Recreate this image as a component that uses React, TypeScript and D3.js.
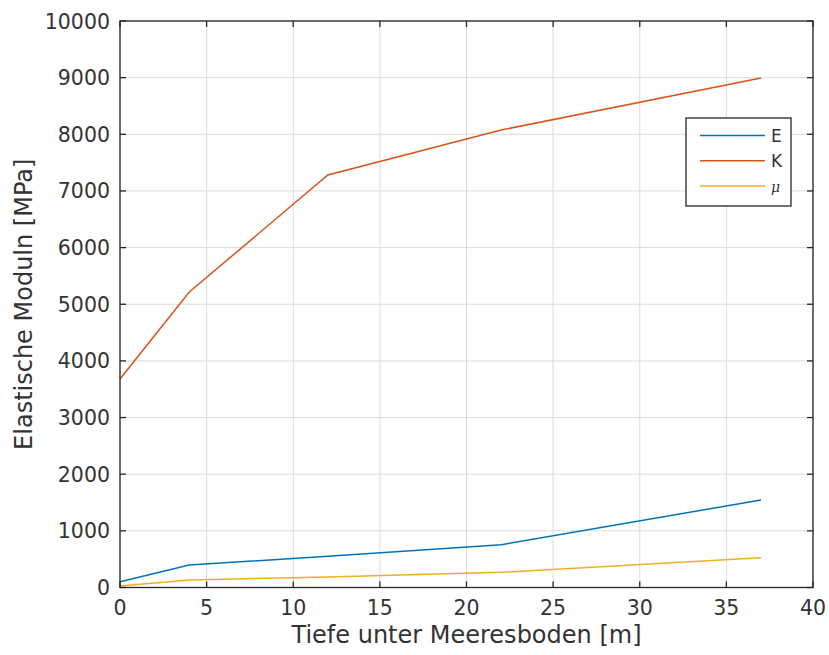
import React from "react";
import * as d3 from "d3";

const depth = [0, 4, 12, 22, 37];
const seriesE = [100, 397, 552, 755, 1545];
const seriesK = [3680, 5216, 7282, 8076, 8994];
const seriesMu = [26, 132, 187, 268, 526];
const seriesNames = ["E", "K", "μ"];
const seriesColors = ["#0072BD", "#D95319", "#EDB120"];
const xTicks = [0, 5, 10, 15, 20, 25, 30, 35, 40];
const yTicks = [0, 1000, 2000, 3000, 4000, 5000, 6000, 7000, 8000, 9000, 10000];

const W = 829, H = 655;
const L = 120, R = 813, T = 21, B = 587.5;

export default function App() {
  const x = d3.scaleLinear().domain([0, 40]).range([L, R]);
  const y = d3.scaleLinear().domain([0, 10000]).range([B, T]);
  const all = [seriesE, seriesK, seriesMu];
  const line = d3.line<[number, number]>().x(d => x(d[0])).y(d => y(d[1]));
  const axisColor = "#262626";
  const textColor = "#333333";
  const font = "'DejaVu Sans', sans-serif";
  const tickLen = 6;
  return (
    <svg width={W} height={H} style={{ position: "absolute", left: 0, top: 0, background: "#fff" }}>
      <rect x={0} y={0} width={W} height={H} fill="#fff" />
      {xTicks.map(t => (
        <line key={"gx" + t} x1={x(t)} x2={x(t)} y1={T} y2={B} stroke="#dcdcdc" strokeWidth={1} />
      ))}
      {yTicks.map(t => (
        <line key={"gy" + t} x1={L} x2={R} y1={y(t)} y2={y(t)} stroke="#dcdcdc" strokeWidth={1} />
      ))}
      {all.map((s, i) => (
        <path key={"s" + i} d={line(depth.map((d, j) => [d, s[j]] as [number, number])) || ""} fill="none" stroke={seriesColors[i]} strokeWidth={1.5} />
      ))}
      <rect x={L} y={T} width={R - L} height={B - T} fill="none" stroke={axisColor} strokeWidth={1.3} />
      {xTicks.map(t => (
        <g key={"tx" + t}>
          <line x1={x(t)} x2={x(t)} y1={B} y2={B - tickLen} stroke={axisColor} strokeWidth={1.3} />
          <line x1={x(t)} x2={x(t)} y1={T} y2={T + tickLen} stroke={axisColor} strokeWidth={1.3} />
          <text x={x(t)} y={615} textAnchor="middle" fontFamily={font} fontSize={20.5} fill={textColor}>{t}</text>
        </g>
      ))}
      {yTicks.map(t => (
        <g key={"ty" + t}>
          <line x1={L} x2={L + tickLen} y1={y(t)} y2={y(t)} stroke={axisColor} strokeWidth={1.3} />
          <line x1={R} x2={R - tickLen} y1={y(t)} y2={y(t)} stroke={axisColor} strokeWidth={1.3} />
          <text x={110} y={y(t) + 7.5} textAnchor="end" fontFamily={font} fontSize={20.5} fill={textColor}>{t}</text>
        </g>
      ))}
      <text x={(L + R) / 2} y={643} textAnchor="middle" fontFamily={font} fontSize={24} fill={textColor}>Tiefe unter Meeresboden [m]</text>
      <text transform={`translate(32,${(T + B) / 2}) rotate(-90)`} textAnchor="middle" fontFamily={font} fontSize={24} fill={textColor}>Elastische Moduln [MPa]</text>
      <rect x={686} y={118} width={105} height={88} fill="#fff" stroke={axisColor} strokeWidth={1.3} />
      {seriesNames.map((n, i) => {
        const ly = 135.5 + i * 25.2;
        return (
          <g key={"lg" + i}>
            <line x1={700} x2={765} y1={ly} y2={ly} stroke={seriesColors[i]} strokeWidth={1.5} />
            <text x={771} y={ly + 6.5} fontFamily={n === "μ" ? "'DejaVu Serif', serif" : font} fontStyle={n === "μ" ? "italic" : "normal"} fontSize={n === "μ" ? 14 : 17} fill={textColor}>{n}</text>
          </g>
        );
      })}
    </svg>
  );
}
